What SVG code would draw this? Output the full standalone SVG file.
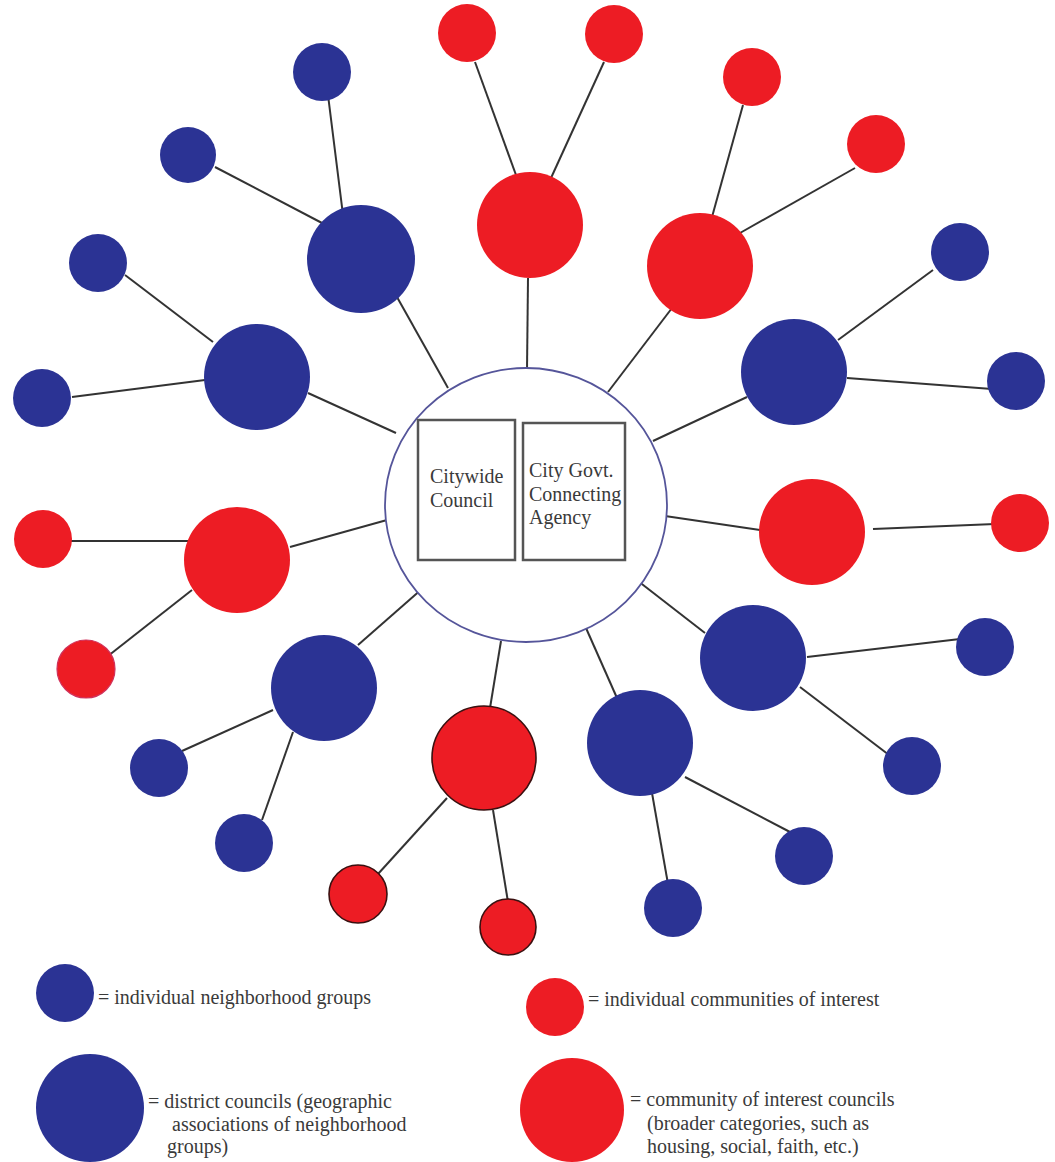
<svg xmlns="http://www.w3.org/2000/svg" width="1055" height="1162" viewBox="0 0 1055 1162">
<style>
.b{fill:#2B3394}
.r{fill:#ED1C24}
.ro{fill:#ED1C24;stroke:#3a1010;stroke-width:1.6}
.c line{stroke:#333;stroke-width:2}
.t{font-family:'Liberation Serif','Times New Roman','DejaVu Serif',serif;font-size:20px;fill:#3a3a3a}
.box{fill:#fff;stroke:#555;stroke-width:2.5}
</style>
<rect width="1055" height="1162" fill="#fff"/>
<g id="connectors" class="c">
<line x1="397" y1="297" x2="448" y2="388"/>
<line x1="308" y1="393" x2="396" y2="433"/>
<line x1="528" y1="278" x2="527" y2="370"/>
<line x1="672" y1="308" x2="608" y2="392"/>
<line x1="747" y1="397" x2="653" y2="441"/>
<line x1="665" y1="516" x2="760" y2="530"/>
<line x1="705" y1="633" x2="638" y2="581"/>
<line x1="617" y1="698" x2="582" y2="619"/>
<line x1="490" y1="708" x2="501" y2="641"/>
<line x1="358" y1="645" x2="423" y2="588"/>
<line x1="290" y1="547" x2="387" y2="520"/>
<line x1="328" y1="95" x2="343" y2="215"/>
<line x1="215" y1="167" x2="322" y2="223"/>
<line x1="125" y1="275" x2="213" y2="342"/>
<line x1="72" y1="397" x2="205" y2="380"/>
<line x1="475" y1="62" x2="516" y2="175"/>
<line x1="604" y1="62" x2="551" y2="178"/>
<line x1="743" y1="105" x2="712" y2="217"/>
<line x1="855" y1="168" x2="740" y2="233"/>
<line x1="933" y1="270" x2="838" y2="340"/>
<line x1="847" y1="378" x2="992" y2="389"/>
<line x1="873" y1="529" x2="995" y2="524"/>
<line x1="807" y1="657" x2="960" y2="639"/>
<line x1="800" y1="687" x2="889" y2="755"/>
<line x1="685" y1="777" x2="790" y2="832"/>
<line x1="652" y1="793" x2="668" y2="884"/>
<line x1="447" y1="798" x2="378" y2="874"/>
<line x1="493" y1="810" x2="508" y2="902"/>
<line x1="273" y1="710" x2="182" y2="751"/>
<line x1="293" y1="732" x2="262" y2="820"/>
<line x1="68" y1="541" x2="190" y2="541"/>
<line x1="192" y1="590" x2="108" y2="656"/>
</g>
<g id="center">
<ellipse cx="526" cy="505" rx="141" ry="137" fill="#fff" stroke="#55559a" stroke-width="1.8"/>
</g>
<g id="citywide-council">
<rect class="box" x="418" y="420" width="97" height="140"/>
<text class="t" x="430" y="483">Citywide</text>
<text class="t" x="430" y="507">Council</text>
</g>
<g id="city-govt-agency">
<rect class="box" x="523" y="423" width="102" height="137"/>
<text class="t" x="529" y="477">City Govt.</text>
<text class="t" x="529" y="501">Connecting</text>
<text class="t" x="529" y="524">Agency</text>
</g>
<g id="district-1"><circle class="b" cx="361" cy="259" r="54"/></g>
<g id="district-2"><circle class="b" cx="257" cy="377" r="53"/></g>
<g id="district-3"><circle class="b" cx="794" cy="372" r="53"/></g>
<g id="district-4"><circle class="b" cx="753" cy="658" r="53"/></g>
<g id="district-5"><circle class="b" cx="640" cy="743" r="53"/></g>
<g id="district-6"><circle class="b" cx="324" cy="688" r="53"/></g>
<g id="interest-council-1"><circle class="r" cx="530" cy="225" r="53"/></g>
<g id="interest-council-2"><circle class="r" cx="700" cy="266" r="53"/></g>
<g id="interest-council-3"><circle class="r" cx="237" cy="560" r="53"/></g>
<g id="interest-council-4"><circle class="r" cx="812" cy="532" r="53"/></g>
<g id="interest-council-5"><circle class="ro" cx="484" cy="758" r="52"/></g>
<g id="neighborhood-1"><circle class="b" cx="322" cy="72" r="29"/></g>
<g id="neighborhood-2"><circle class="b" cx="188" cy="155" r="28"/></g>
<g id="neighborhood-3"><circle class="b" cx="98" cy="263" r="29"/></g>
<g id="neighborhood-4"><circle class="b" cx="42" cy="398" r="29"/></g>
<g id="neighborhood-5"><circle class="b" cx="960" cy="252" r="29"/></g>
<g id="neighborhood-6"><circle class="b" cx="1016" cy="381" r="29"/></g>
<g id="neighborhood-7"><circle class="b" cx="985" cy="647" r="29"/></g>
<g id="neighborhood-8"><circle class="b" cx="912" cy="766" r="29"/></g>
<g id="neighborhood-9"><circle class="b" cx="804" cy="856" r="29"/></g>
<g id="neighborhood-10"><circle class="b" cx="673" cy="908" r="29"/></g>
<g id="neighborhood-11"><circle class="b" cx="159" cy="768" r="29"/></g>
<g id="neighborhood-12"><circle class="b" cx="244" cy="843" r="29"/></g>
<g id="community-1"><circle class="r" cx="467" cy="33" r="29"/></g>
<g id="community-2"><circle class="r" cx="614" cy="34" r="29"/></g>
<g id="community-3"><circle class="r" cx="752" cy="77" r="29"/></g>
<g id="community-4"><circle class="r" cx="876" cy="144" r="29"/></g>
<g id="community-5"><circle class="r" cx="1020" cy="523" r="29"/></g>
<g id="community-6"><circle class="r" cx="43" cy="539" r="29"/></g>
<g id="community-7"><circle class="r" cx="86" cy="669" r="29" stroke="#d0305a" stroke-width="1.2"/></g>
<g id="community-8"><circle class="ro" cx="358" cy="894" r="29"/></g>
<g id="community-9"><circle class="ro" cx="508" cy="927" r="28"/></g>
<g id="legend-neighborhood">
<circle class="b" cx="65" cy="993" r="29"/>
<text class="t" x="98" y="1004">= individual neighborhood groups</text>
</g>
<g id="legend-district">
<circle class="b" cx="90" cy="1108" r="54"/>
<text class="t" x="148" y="1108">= district councils (geographic</text>
<text class="t" x="172" y="1131">associations of neighborhood</text>
<text class="t" x="167" y="1153">groups)</text>
</g>
<g id="legend-community">
<circle class="r" cx="555" cy="1007" r="29"/>
<text class="t" x="588" y="1006">= individual communities of interest</text>
</g>
<g id="legend-interest-council">
<circle class="r" cx="572" cy="1110" r="52"/>
<text class="t" x="630" y="1106">= community of interest councils</text>
<text class="t" x="647" y="1130">(broader categories, such as</text>
<text class="t" x="647" y="1153">housing, social, faith, etc.)</text>
</g>
</svg>
